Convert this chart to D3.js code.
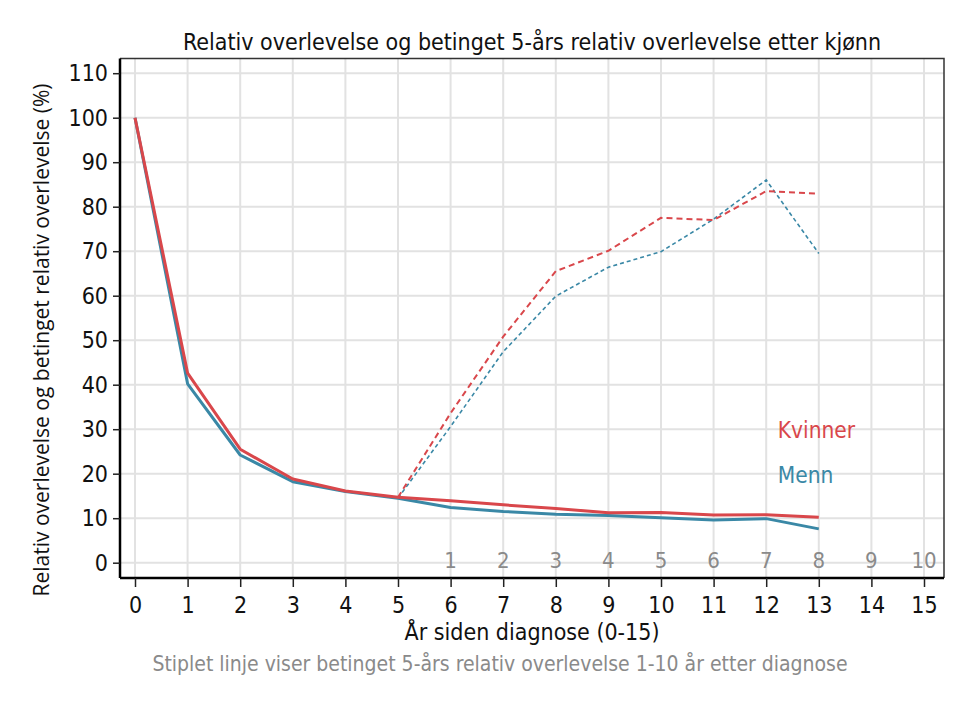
<!DOCTYPE html>
<html>
<head>
<meta charset="utf-8">
<script src="https://cdn.jsdelivr.net/npm/d3@7"></script>
<style>
  body { margin: 0; background: #fff; }
  svg text { font-family: "Liberation Sans Narrow", "DejaVu Sans Condensed", sans-serif; }
</style>
</head>
<body>
<div id="chart"></div>
<script>
// years since diagnosis
const years = d3.range(0, 14);
const xTicks = d3.range(0, 16);
const yTicks = d3.range(0, 111, 10);
const condTicks = d3.range(1, 11);   // secondary labels for conditional survival

// relative survival (solid)
const kvinner = [100, 42.6, 25.5, 18.8, 16.1, 14.7, 13.9, 13.0, 12.2, 11.2, 11.3, 10.7, 10.8, 10.2];
const menn    = [100, 40.2, 24.2, 18.2, 16.0, 14.5, 12.4, 11.5, 10.9, 10.6, 10.1, 9.6, 9.9, 7.6];

// conditional 5-year relative survival (dashed), starting at year 5
const condYears = d3.range(5, 14);
const kvinnerCond = [14.7, 33.6, 50.8, 65.5, 70.1, 77.5, 77.0, 83.5, 82.9];
const mennCond    = [14.5, 30.6, 47.4, 59.9, 66.4, 69.9, 77.2, 86.0, 69.5];

const red = "#d9474b";
const blue = "#3a88a6";

const w = 970, h = 706;
const pLeft = 120, pRight = 944, pTop = 58.5, pBottom = 578;

const svg = d3.select("#chart").append("svg")
  .attr("width", w).attr("height", h);

const xScale = d3.scaleLinear().domain([0, 15]).range([135, 924]);
const yScale = d3.scaleLinear().domain([0, 100]).range([562.7, 117.7]);

//gridlines
svg.append("g").selectAll("line").data(yTicks).enter().append("line")
  .attr("x1", pLeft).attr("x2", pRight)
  .attr("y1", d => yScale(d)).attr("y2", d => yScale(d))
  .attr("stroke", "#e2e2e2").attr("stroke-width", 2);
svg.append("g").selectAll("line").data(xTicks).enter().append("line")
  .attr("y1", pTop).attr("y2", pBottom)
  .attr("x1", d => xScale(d)).attr("x2", d => xScale(d))
  .attr("stroke", "#e2e2e2").attr("stroke-width", 2);

//frame: top/right
svg.append("path")
  .attr("d", `M${pLeft},${pTop}H${pRight}V${pBottom}`)
  .attr("fill", "none").attr("stroke", "#333").attr("stroke-width", 1.5);

//secondary labels 1-10 inside plot
svg.append("g").selectAll("text").data(condTicks).enter().append("text")
  .attr("x", d => xScale(d + 5))
  .attr("y", yScale(0) + 5)
  .attr("text-anchor", "middle")
  .attr("fill", "#8a8a8a")
  .attr("font-size", 22)
  .text(d => d);

const line = d3.line().x(d => xScale(d[0])).y(d => yScale(d[1]));

//dashed conditional lines
svg.append("path")
  .datum(condYears.map((x, i) => [x, mennCond[i]]))
  .attr("d", line).attr("fill", "none")
  .attr("stroke", blue).attr("stroke-width", 1.6).attr("stroke-dasharray", "4,3");
svg.append("path")
  .datum(condYears.map((x, i) => [x, kvinnerCond[i]]))
  .attr("d", line).attr("fill", "none")
  .attr("stroke", red).attr("stroke-width", 2).attr("stroke-dasharray", "6,4");

//solid lines
svg.append("path")
  .datum(years.map((x, i) => [x, menn[i]]))
  .attr("d", line).attr("fill", "none")
  .attr("stroke", blue).attr("stroke-width", 3).attr("stroke-linejoin", "round");
svg.append("path")
  .datum(years.map((x, i) => [x, kvinner[i]]))
  .attr("d", line).attr("fill", "none")
  .attr("stroke", red).attr("stroke-width", 3).attr("stroke-linejoin", "round");

//axes
const yAxis = d3.axisLeft(yScale).tickValues(yTicks).tickSize(7).tickPadding(5);
const yG = svg.append("g").attr("transform", `translate(${pLeft},0)`).call(yAxis);
yG.select(".domain").attr("d", `M0,${pTop}V${pBottom}`).attr("stroke", "#000").attr("stroke-width", 2.5);
yG.selectAll(".tick line").attr("stroke", "#222").attr("stroke-width", 1.5);
yG.selectAll(".tick text").attr("font-size", 23).attr("fill", "#111")
  .style("font-family", "'Liberation Sans Narrow', 'DejaVu Sans Condensed', sans-serif");

const xAxis = d3.axisBottom(xScale).tickValues(xTicks).tickSize(9).tickPadding(10);
const xG = svg.append("g").attr("transform", `translate(0,${pBottom})`).call(xAxis);
xG.select(".domain").attr("d", `M${pLeft},0H${pRight}`).attr("stroke", "#000").attr("stroke-width", 2.5);
xG.selectAll(".tick line").attr("stroke", "#222").attr("stroke-width", 1.5);
xG.selectAll(".tick text").attr("font-size", 23).attr("fill", "#111")
  .style("font-family", "'Liberation Sans Narrow', 'DejaVu Sans Condensed', sans-serif");

//legend labels
svg.append("text").attr("x", xScale(12.22)).attr("y", yScale(28.0))
  .attr("fill", red).attr("font-size", 22.5).text("Kvinner");
svg.append("text").attr("x", xScale(12.22)).attr("y", yScale(18.0))
  .attr("fill", blue).attr("font-size", 22.5).text("Menn");

//titles
svg.append("text").attr("x", 532).attr("y", 50)
  .attr("text-anchor", "middle").attr("font-size", 23).attr("fill", "#111")
  .text("Relativ overlevelse og betinget 5-års relativ overlevelse etter kjønn");

svg.append("text")
  .attr("transform", "translate(49,340) rotate(-90)")
  .attr("text-anchor", "middle").attr("font-size", 21).attr("fill", "#111")
  .style("font-family", "'Open Sans', sans-serif")
  .text("Relativ overlevelse og betinget relativ overlevelse (%)");

svg.append("text").attr("x", 532).attr("y", 640)
  .attr("text-anchor", "middle").attr("font-size", 23).attr("fill", "#111")
  .text("År siden diagnose (0-15)");

svg.append("text").attr("x", 500).attr("y", 671)
  .attr("text-anchor", "middle").attr("font-size", 21).attr("fill", "#8a8a8a")
  .text("Stiplet linje viser betinget 5-års relativ overlevelse 1-10 år etter diagnose");
</script>
</body>
</html>
